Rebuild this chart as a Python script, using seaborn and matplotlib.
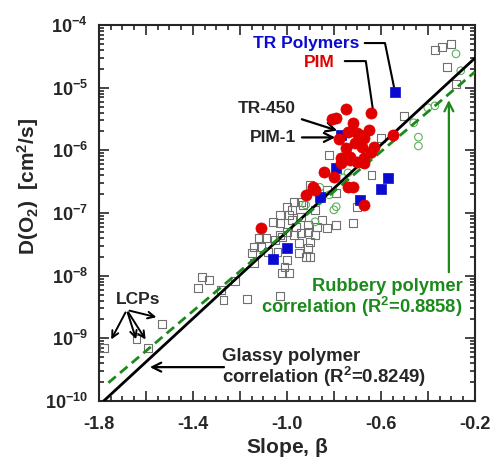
import numpy as np
import pandas as pd
import matplotlib
matplotlib.use("Agg")
import matplotlib.pyplot as plt
import matplotlib.ticker as mticker
import seaborn as sns

# glassy polymers (open gray squares): slope beta, log10 D(O2)
glassy_beta = [-1.78, -1.64, -1.59, -1.53, -1.36, -1.33, -1.38, -1.28, -1.27, -1.22,
               -1.17, -1.03, -1.14, -1.15, -1.14, -1.11, -1.12, -1.09, -1.08, -1.06,
               -1.05, -1.04, -1.03, -1.03, -1.03, -1.02, -1.00, -1.00, -1.01, -1.02,
               -0.99, -0.99, -0.98, -0.98, -0.97, -0.97, -0.96, -0.95, -0.95, -0.94,
               -0.94, -0.94, -0.91, -0.91, -0.91, -0.90, -0.90, -0.92, -0.88, -0.87,
               -0.85, -0.83, -0.79, -0.72, -0.88, -0.90, -0.82, -0.83, -0.79, -0.70,
               -0.64, -0.60, -0.50, -0.37, -0.34, -0.30, -0.32, -0.28, -1.00, -0.93]
glassy_logD = [-9.15, -9.01, -9.15, -8.77, -8.02, -8.07, -8.20, -8.23, -8.39, -8.09,
               -8.37, -8.32, -7.80, -7.64, -7.54, -7.54, -7.40, -7.40, -7.62, -7.14,
               -7.43, -7.62, -7.35, -7.03, -7.16, -7.38, -7.30, -7.75, -7.86, -7.96,
               -7.96, -7.03, -6.95, -7.11, -6.82, -7.35, -7.22, -7.48, -7.64, -7.06,
               -7.32, -6.82, -7.19, -7.30, -7.56, -7.46, -7.70, -7.70, -7.35, -7.22,
               -7.11, -7.24, -7.19, -7.16, -6.95, -6.55, -6.07, -6.63, -6.68, -6.90,
               -6.39, -5.80, -5.45, -4.40, -4.35, -4.30, -4.67, -4.94, -6.90, -6.87]

# rubbery polymers (open green circles)
rubbery_beta = [-0.28, -0.26, -0.37, -0.40, -0.46, -0.44, -0.44, -0.64, -0.76, -0.79,
                -0.92, -0.86, -0.80, -0.82, -0.88, -0.74]
rubbery_logD = [-4.46, -4.73, -5.29, -5.32, -5.56, -5.79, -5.93, -6.07, -6.44, -6.90,
                -6.87, -6.59, -6.95, -6.71, -7.14, -6.36]

# TR polymers (blue squares)
tr_beta = [-0.54, -0.57, -0.60, -0.69, -0.79, -0.86, -0.77, -1.00, -1.06]
tr_logD = [-5.07, -6.44, -6.62, -6.79, -6.28, -6.74, -5.76, -7.56, -7.73]

# PIMs (red circles)
pim_beta = [-0.75, -0.64, -0.81, -0.79, -0.72, -0.78, -0.70, -0.65, -0.74, -0.69,
            -0.67, -0.71, -0.75, -0.68, -0.63, -0.64, -0.73, -0.67, -0.77, -0.70,
            -0.73, -0.77, -0.84, -0.80, -0.89, -0.92, -0.74, -0.72, -0.67, -0.55,
            -1.11, -0.88, -0.67]
pim_logD = [-5.34, -5.40, -5.50, -5.48, -5.56, -5.82, -5.72, -5.68, -5.71, -5.76,
            -5.80, -5.88, -5.96, -5.95, -5.95, -6.03, -6.11, -6.12, -6.12, -6.19,
            -6.15, -6.20, -6.35, -6.43, -6.59, -6.71, -6.59, -6.59, -6.87, -5.76,
            -7.24, -6.63, -6.20]

# correlation lines (end points)
glassy_fit_beta = [-1.78, -0.20]
glassy_fit_logD = [-10.0, -4.53]
rubbery_fit_beta = [-1.76, -0.20]
rubbery_fit_logD = [-9.71, -4.75]

x_major = [-1.8, -1.6, -1.4, -1.2, -1.0, -0.8, -0.6, -0.4, -0.2]
x_ticklabels = ["-1.8", "", "-1.4", "", "-1.0", "", "-0.6", "", "-0.2"]
y_exponents = [-10, -9, -8, -7, -6, -5, -4]

GREEN = "#1b8a1b"
BLUE = "#0a0ad0"
RED = "#e00000"

sns.set_style("ticks")
plt.rcParams["font.family"] = ["Liberation Sans", "DejaVu Sans"]
plt.rcParams["font.weight"] = "bold"
plt.rcParams["mathtext.fontset"] = "custom"
plt.rcParams["mathtext.rm"] = "Liberation Sans:bold"
plt.rcParams["mathtext.bf"] = "Liberation Sans:bold"
plt.rcParams["mathtext.it"] = "Liberation Sans:bold"
plt.rcParams["axes.unicode_minus"] = False

fig = plt.figure(figsize=(4.91, 4.58), dpi=100)
ax = fig.add_axes([0.2016, 0.1245, 0.7654, 0.8209])

glassy = pd.DataFrame({"beta": glassy_beta, "D": 10.0 ** np.array(glassy_logD)})
rubbery = pd.DataFrame({"beta": rubbery_beta, "D": 10.0 ** np.array(rubbery_logD)})
tr = pd.DataFrame({"beta": tr_beta, "D": 10.0 ** np.array(tr_logD)})
pim = pd.DataFrame({"beta": pim_beta, "D": 10.0 ** np.array(pim_logD)})

sns.scatterplot(data=glassy, x="beta", y="D", marker="s", s=32, color="none",
                edgecolor="#707070", linewidth=0.8, ax=ax, zorder=2)
sns.scatterplot(data=rubbery, x="beta", y="D", marker="o", s=30, color="none",
                edgecolor="#5cb05c", linewidth=0.8, ax=ax, zorder=2)

sns.lineplot(x=glassy_fit_beta, y=10.0 ** np.array(glassy_fit_logD), color="black",
             lw=2.0, ax=ax, zorder=3)
sns.lineplot(x=rubbery_fit_beta, y=10.0 ** np.array(rubbery_fit_logD), color=GREEN,
             lw=2.0, dashes=[(3.5, 2.0)], style=[0, 0], legend=False, ax=ax, zorder=3)

sns.scatterplot(data=tr, x="beta", y="D", marker="s", s=58, color=BLUE,
                edgecolor=BLUE, linewidth=0.5, ax=ax, zorder=4)
sns.scatterplot(data=pim, x="beta", y="D", marker="o", s=64, color=RED,
                edgecolor=RED, linewidth=0.5, ax=ax, zorder=5)

ax.set_yscale("log")
ax.set_xlim(-1.8, -0.2)
ax.set_ylim(1e-10, 1e-4)

ax.set_xticks(x_major)
ax.set_xticklabels(x_ticklabels)
ax.xaxis.set_minor_locator(mticker.MultipleLocator(0.05))
ax.set_yticks([10.0 ** e for e in y_exponents])
ax.set_yticklabels([r"$10^{%d}$" % e for e in y_exponents])
minor_y = [m * 10.0 ** e for e in y_exponents[:-1] for m in range(2, 10)]
ax.set_yticks(minor_y, minor=True)
ax.yaxis.set_minor_formatter(mticker.NullFormatter())

ax.tick_params(which="both", direction="in", top=True, right=True, width=1.2)
ax.tick_params(which="major", length=7, labelsize=13)
ax.tick_params(axis="x", which="major", pad=11)
ax.tick_params(axis="y", which="major", pad=8)
ax.tick_params(which="minor", length=3.5)
for sp in ax.spines.values():
    sp.set_linewidth(1.5)

ax.set_xlabel(r"Slope, $\beta$", fontsize=15, fontweight="bold", labelpad=2)
ax.set_ylabel(r"D(O$_2$)  [cm$^2$/s]", fontsize=15, fontweight="bold")
ax.yaxis.set_label_coords(-0.155, 0.57)

tf = ax.transAxes
# labels with connectors
ax.text(0.694, 0.952, "TR Polymers", color=BLUE, fontsize=12.5, fontweight="bold",
        ha="right", va="center", transform=tf)
ax.plot([0.707, 0.761, 0.785], [0.952, 0.952, 0.835], color="black", lw=1.5, transform=tf)
ax.text(0.628, 0.899, "PIM", color=RED, fontsize=12.5, fontweight="bold",
        ha="right", va="center", transform=tf)
ax.plot([0.654, 0.710, 0.729], [0.904, 0.904, 0.774], color="black", lw=1.5, transform=tf)

arrow = dict(arrowstyle="->", color="black", lw=1.6, mutation_scale=16)
ax.annotate("TR-450", xy=(0.641, 0.717), xytext=(0.524, 0.779), xycoords=tf,
            textcoords=tf, ha="right", va="center", fontsize=12.5, fontweight="bold",
            arrowprops=arrow)
ax.annotate("PIM-1", xy=(0.636, 0.701), xytext=(0.524, 0.701), xycoords=tf,
            textcoords=tf, ha="right", va="center", fontsize=12.5, fontweight="bold",
            arrowprops=arrow)

ax.text(0.045, 0.269, "LCPs", fontsize=12.5, fontweight="bold", ha="left",
        va="center", transform=tf)
for ex, ey in [(0.029, 0.157), (0.101, 0.157), (0.128, 0.157), (0.160, 0.221)]:
    ax.annotate("", xy=(ex, ey), xytext=(0.074, 0.242), xycoords=tf, textcoords=tf,
                arrowprops=dict(arrowstyle="->", color="black", lw=1.4, mutation_scale=12))

ax.text(0.328, 0.087, "Glassy polymer\ncorrelation (R$^2$=0.8249)", fontsize=13.4,
        fontweight="bold", ha="left", va="center", linespacing=1.0, transform=tf)
ax.annotate("", xy=(0.128, 0.090), xytext=(0.340, 0.090), xycoords=tf, textcoords=tf,
            arrowprops=arrow)

ax.text(0.968, 0.272, "Rubbery polymer\ncorrelation (R$^2$=0.8858)", color=GREEN,
        fontsize=13.2, fontweight="bold", ha="right", va="center", linespacing=1.0,
        transform=tf)
ax.annotate("", xy=(0.931, 0.808), xytext=(0.931, 0.335), xycoords=tf, textcoords=tf,
            arrowprops=dict(arrowstyle="->", color=GREEN, lw=1.6, mutation_scale=16))

fig.savefig("out.png", dpi=100)
